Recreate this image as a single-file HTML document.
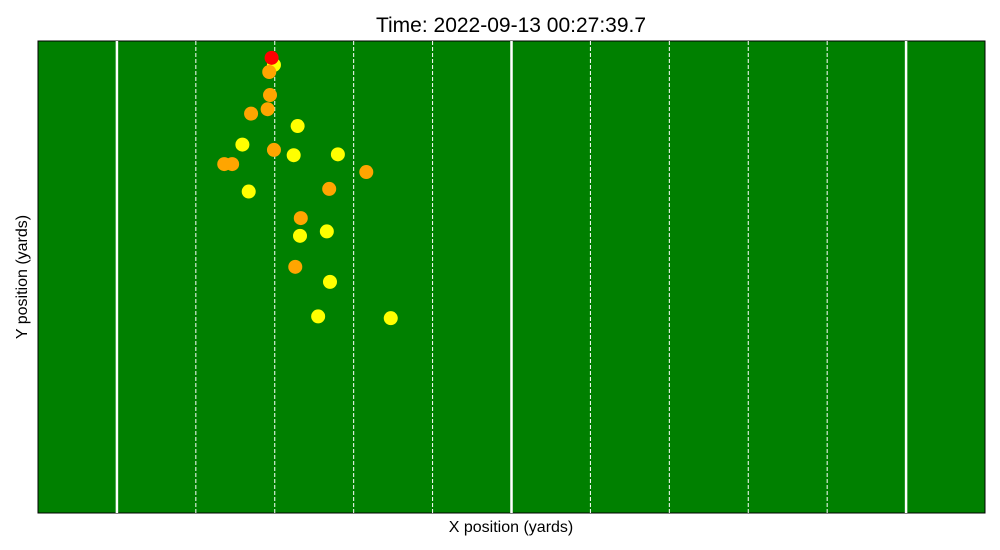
<!DOCTYPE html>
<html><head><meta charset="utf-8"><style>
body{margin:0;background:#fff;}
svg{display:block;font-family:"Liberation Sans","DejaVu Sans",sans-serif;}
</style></head><body>
<svg id="chart" width="1000" height="550">
<text x="511" y="32" text-anchor="middle" font-size="21">Time: 2022-09-13 00:27:39.7</text>
<rect x="38" y="41" width="947" height="472" fill="#008000" stroke="#000" stroke-width="1"/>
<g id="lines"></g>
<g id="points"></g>
<text x="511" y="532" text-anchor="middle" font-size="16">X position (yards)</text>
<text x="27" y="277" text-anchor="middle" font-size="16" transform="rotate(-90 27 277)">Y position (yards)</text>
</svg>
<script>
const yardLines=[10,20,30,40,50,60,70,80,90,100,110];
const solidLines=[10,60,110];
const xs=[29.9,32.9,25.9,32.4,38.0,26.7,33.2,36.6,37.0,35.5,44.7,29.3,29.4,29.1,27.0,29.9,23.6,24.6,41.6,36.9,33.3,32.6,29.6];
const ys=[50.6,43.7,41.6,40.4,40.5,36.3,31.3,31.8,26.1,22.2,22.0,49.8,47.2,45.6,45.1,41.0,39.4,39.4,38.5,36.6,33.3,27.8,51.4];
const teams=['away','away','away','away','away','away','away','away','away','away','away','home','home','home','home','home','home','home','home','home','home','home','football'];
const colors={football:'red',home:'orange',away:'yellow'};
const X=v=>38+v*947/120, Y=v=>513-v*472/53.3;
const ns='http://www.w3.org/2000/svg';
const lg=document.getElementById('lines');
yardLines.forEach(v=>{
  const l=document.createElementNS(ns,'line');
  l.setAttribute('x1',X(v));l.setAttribute('x2',X(v));
  l.setAttribute('y1',41);l.setAttribute('y2',513);
  l.setAttribute('stroke','#fff');
  const solid=solidLines.includes(v);
  l.setAttribute('stroke-width',solid?2.5:1);
  if(!solid)l.setAttribute('stroke-dasharray','4,2');
  
  
  lg.appendChild(l);
});
const pg=document.getElementById('points');
xs.forEach((x,i)=>{
  const c=document.createElementNS(ns,'circle');
  c.setAttribute('cx',X(x));c.setAttribute('cy',Y(ys[i]));c.setAttribute('r',7);
  c.setAttribute('fill',colors[teams[i]]);
  
  
  pg.appendChild(c);
});
</script>
</body></html>
